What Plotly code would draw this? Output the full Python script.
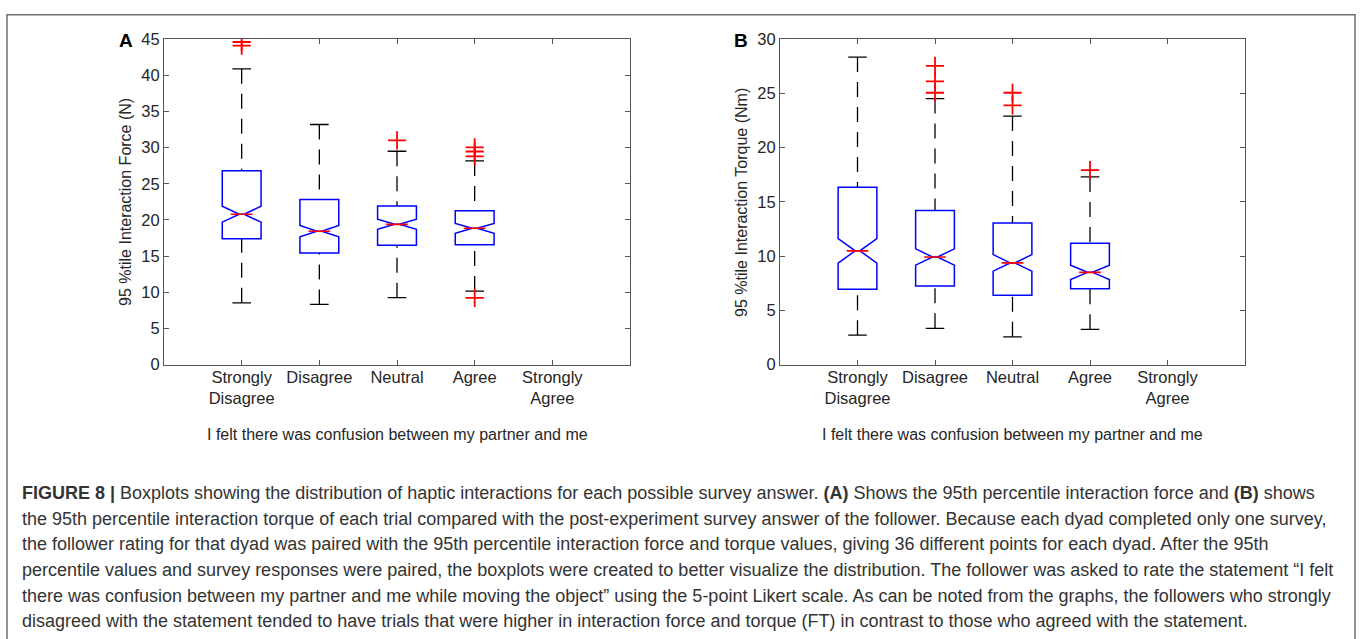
import plotly.graph_objects as go

# ---------------- data ----------------
answer_pos = [1, 2, 3, 4]
tick_pos = [1, 2, 3, 4, 5]
tick_text = ["Strongly<br>Disagree", "Disagree", "Neutral", "Agree", "Strongly<br>Agree"]

# Panel A: 95 %tile interaction force (N)
force_q1 = [17.4, 15.45, 16.5, 16.57]
force_median = [20.8, 18.45, 19.4, 18.85]
force_q3 = [26.8, 22.85, 21.95, 21.27]
force_notch = [1.1, 0.78, 0.7, 0.68]
force_lower = [8.55, 8.33, 9.27, 10.17]
force_upper = [40.9, 33.2, 29.5, 28.17]
force_outliers = [[44.6, 44.1], [], [31.0], [30.05, 29.47, 28.8, 9.23]]

# Panel B: 95 %tile interaction torque (Nm)
torque_q1 = [6.96, 7.26, 6.4, 6.99]
torque_median = [10.49, 9.92, 9.38, 8.51]
torque_q3 = [16.34, 14.2, 13.06, 11.2]
torque_notch = [1.13, 0.75, 0.76, 0.66]
torque_lower = [2.72, 3.35, 2.57, 3.26]
torque_upper = [28.35, 24.52, 22.91, 17.3]
torque_outliers = [[], [27.54, 26.11, 25.06], [25.06, 23.9], [17.92]]

caption_lines = [
    "<b>FIGURE 8 |</b> Boxplots showing the distribution of haptic interactions for each possible survey answer. <b>(A)</b> Shows the 95th percentile interaction force and <b>(B)</b> shows",
    "the 95th percentile interaction torque of each trial compared with the post-experiment survey answer of the follower. Because each dyad completed only one survey,",
    "the follower rating for that dyad was paired with the 95th percentile interaction force and torque values, giving 36 different points for each dyad. After the 95th",
    "percentile values and survey responses were paired, the boxplots were created to better visualize the distribution. The follower was asked to rate the statement \u201cI felt",
    "there was confusion between my partner and me while moving the object\u201d using the 5-point Likert scale. As can be noted from the graphs, the followers who strongly",
    "disagreed with the statement tended to have trials that were higher in interaction force and torque (FT) in contrast to those who agreed with the statement.",
]

# ---------------- styling ----------------
W, H = 1360, 639
BOX_W = 0.5
NOTCH_W = 0.44
CAP_HALF = 0.12
FONT = "Liberation Sans, Arial, sans-serif"
AX_COL = "#555555"
TXT_COL = "#262626"

fig = go.Figure()


def add_panel(xa, ya, q1, med, q3, notch, lo, up, outl):
    fig.add_trace(go.Box(
        x=answer_pos, q1=q1, median=med, q3=q3, lowerfence=q1, upperfence=q3,
        notched=True, notchspan=notch, notchwidth=NOTCH_W, width=BOX_W,
        line=dict(color="#0000FF", width=1.5), fillcolor="rgba(0,0,0,0)",
        boxpoints=False, hoverinfo="skip", showlegend=False,
        xaxis=xa, yaxis=ya))
    wx, wy = [], []
    cx, cy = [], []
    for p, a, b, c, d in zip(answer_pos, up, q3, lo, q1):
        wx += [p, p, None, p, p, None]
        wy += [a, b, None, c, d, None]
        cx += [p - CAP_HALF, p + CAP_HALF, None, p - CAP_HALF, p + CAP_HALF, None]
        cy += [a, a, None, c, c, None]
    fig.add_trace(go.Scatter(x=wx, y=wy, mode="lines",
                             line=dict(color="black", width=1.3, dash="15px,10px"),
                             hoverinfo="skip", showlegend=False, xaxis=xa, yaxis=ya))
    fig.add_trace(go.Scatter(x=cx, y=cy, mode="lines",
                             line=dict(color="black", width=1.3),
                             hoverinfo="skip", showlegend=False, xaxis=xa, yaxis=ya))
    mx, my = [], []
    half = BOX_W / 2 * (1 - NOTCH_W)
    for p, m in zip(answer_pos, med):
        mx += [p - half, p + half, None]
        my += [m, m, None]
    fig.add_trace(go.Scatter(x=mx, y=my, mode="lines",
                             line=dict(color="#FF0000", width=1.6),
                             hoverinfo="skip", showlegend=False, xaxis=xa, yaxis=ya))
    ox, oy = [], []
    for p, vals in zip(answer_pos, outl):
        for v in vals:
            ox.append(p)
            oy.append(v)
    fig.add_trace(go.Scatter(x=ox, y=oy, mode="markers",
                             marker=dict(symbol="cross-thin", size=13,
                                         line=dict(color="#FF0000", width=1.8)),
                             hoverinfo="skip", showlegend=False, xaxis=xa, yaxis=ya))


add_panel("x", "y", force_q1, force_median, force_q3, force_notch,
          force_lower, force_upper, force_outliers)
add_panel("x2", "y2", torque_q1, torque_median, torque_q3, torque_notch,
          torque_lower, torque_upper, torque_outliers)

axis_common = dict(showline=True, linecolor=AX_COL, linewidth=1.2, mirror="ticks",
                   ticks="inside", ticklen=5, tickcolor=AX_COL, tickwidth=1.2,
                   showgrid=False, zeroline=False, fixedrange=True,
                   tickfont=dict(family=FONT, size=16.5, color=TXT_COL))

ytop = 1 - 31 / H
ybot = 1 - 366 / H

fig.update_layout(
    width=W, height=H, margin=dict(l=0, r=0, t=0, b=0),
    paper_bgcolor="white", plot_bgcolor="white", showlegend=False,
    xaxis=dict(domain=[164 / W, 630 / W], range=[0, 6], tickvals=tick_pos,
               ticktext=tick_text, anchor="y", ticklabelstandoff=-3, **axis_common),
    yaxis=dict(domain=[ybot, ytop], range=[0, 45], dtick=5, anchor="x", **axis_common),
    xaxis2=dict(domain=[780 / W, 1245 / W], range=[0, 6], tickvals=tick_pos,
                ticktext=tick_text, anchor="y2", ticklabelstandoff=-3, **axis_common),
    yaxis2=dict(domain=[ybot, ytop], range=[0, 30], dtick=5, anchor="x2", **axis_common),
)

ann = []
ymid = 1 - ((31 + 366) / 2) / H
xtitle_y = 1 - 438 / H
common_ann = dict(xref="paper", yref="paper", showarrow=False,
                  xanchor="center", yanchor="middle")
ann.append(dict(text="I felt there was confusion between my partner and me",
                x=(164 + 630) / 2 / W, y=xtitle_y,
                font=dict(family=FONT, size=16, color=TXT_COL), **common_ann))
ann.append(dict(text="I felt there was confusion between my partner and me",
                x=(780 + 1245) / 2 / W, y=xtitle_y,
                font=dict(family=FONT, size=16, color=TXT_COL), **common_ann))
ann.append(dict(text="95 %tile Interaction Force (N)", textangle=-90,
                x=126 / W, y=ymid,
                font=dict(family=FONT, size=16, color=TXT_COL), **common_ann))
ann.append(dict(text="95 %tile Interaction Torque (Nm)", textangle=-90,
                x=742 / W, y=ymid,
                font=dict(family=FONT, size=16, color=TXT_COL), **common_ann))
ann.append(dict(text="<b>A</b>", x=126 / W, y=1 - 32 / H,
                font=dict(family=FONT, size=19, color="black"), **common_ann))
ann.append(dict(text="<b>B</b>", x=741 / W, y=1 - 32 / H,
                font=dict(family=FONT, size=19, color="black"), **common_ann))

cap_y = [498, 524.5, 551, 577.5, 604, 630]
for line, yy in zip(caption_lines, cap_y):
    ann.append(dict(text=line, x=20 / W, y=1 - yy / H, xref="paper", yref="paper",
                    xanchor="left", yanchor="middle", showarrow=False,
                    font=dict(family=FONT, size=18, color="#333333")))
fig.update_layout(annotations=ann)

fig.add_shape(type="rect", xref="paper", yref="paper",
              x0=7 / W, x1=1355 / W, y0=-0.05, y1=1 - 6 / H,
              line=dict(color="#707070", width=1.5), fillcolor="rgba(0,0,0,0)")

fig.write_html("out.html", config={"displayModeBar": False})
